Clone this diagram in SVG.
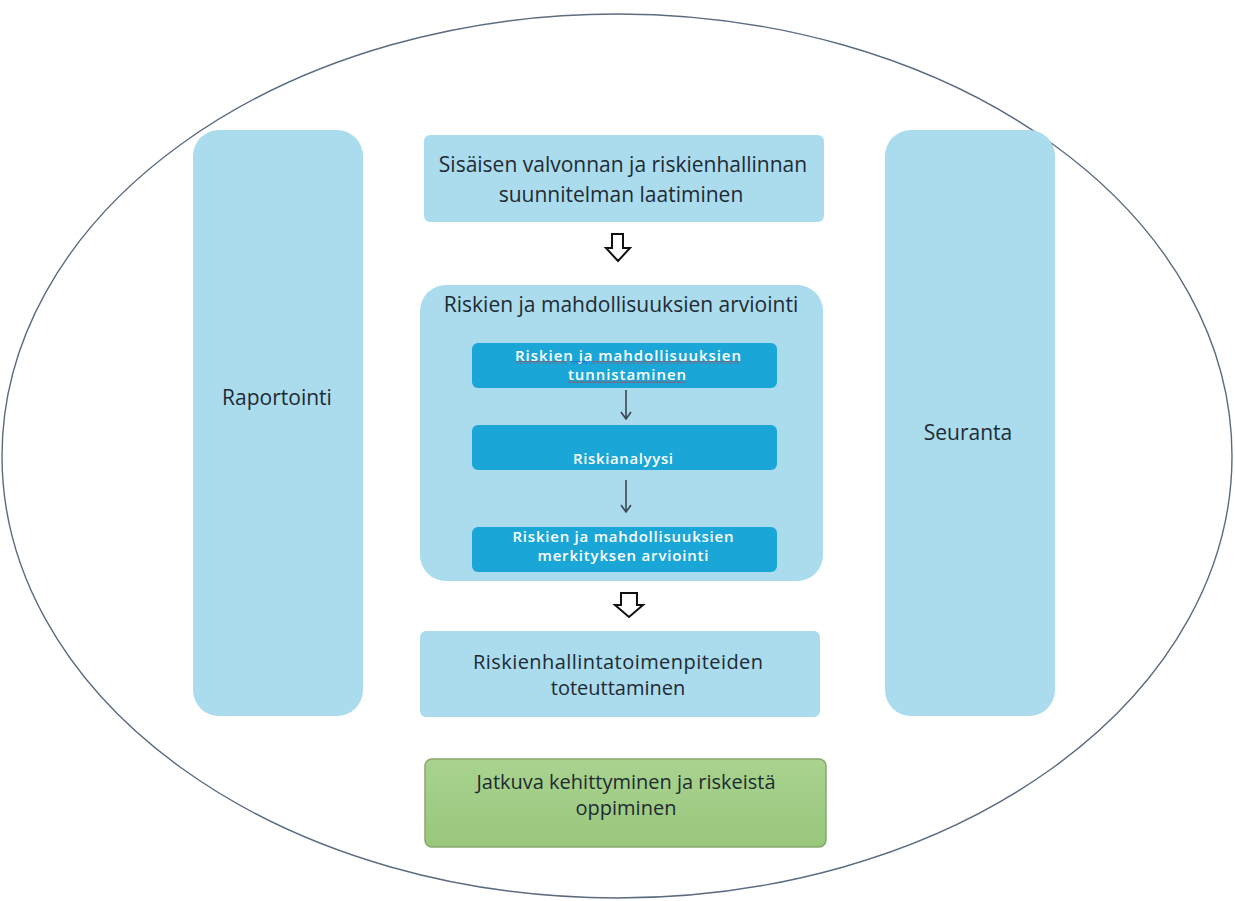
<svg xmlns="http://www.w3.org/2000/svg" width="1235" height="901" viewBox="0 0 1235 901">
<defs>
<style>
.lb{fill:#aadcee;}
.db{fill:#1aa7d8;}
.t{font-family:"Open Sans","Noto Sans","Liberation Sans",sans-serif;font-size:21px;fill:#1f2a33;text-anchor:middle;}
.w{font-family:"Open Sans","Noto Sans","Liberation Sans",sans-serif;font-size:15px;font-weight:600;fill:#ffffff;text-anchor:middle;}
.big{fill:#ffffff;stroke:#111;stroke-width:2;stroke-linejoin:miter;}
.sm{stroke:#3a4650;stroke-width:1.6;fill:none;}
</style>
<linearGradient id="g" x1="0" y1="0" x2="0" y2="1">
<stop offset="0" stop-color="#a9d38f"/>
<stop offset="1" stop-color="#98c77c"/>
</linearGradient>
<pattern id="wr" width="4" height="3" patternUnits="userSpaceOnUse">
<path d="M0,2.5 L2,0.5 L4,2.5" fill="none" stroke="#d42a2a" stroke-width="0.9"/>
</pattern>
<pattern id="wb" width="4" height="3" patternUnits="userSpaceOnUse">
<path d="M0,2.5 L2,0.5 L4,2.5" fill="none" stroke="#2233cc" stroke-width="0.9"/>
</pattern>
<marker id="ah" viewBox="0 0 12 12" refX="11" refY="6" markerWidth="12" markerHeight="12" markerUnits="userSpaceOnUse" orient="auto">
<path d="M4,1 L11,6 L4,11" fill="none" stroke="#3a4650" stroke-width="1.6"/>
</marker>
</defs>
<rect width="1235" height="901" fill="#ffffff"/>
<ellipse id="outer" cx="617" cy="456" rx="615" ry="442" fill="none" stroke="#5b6c80" stroke-width="1.4"/>

<g id="raportointi">
<rect class="lb" x="193" y="130" width="170" height="586" rx="26"/>
<text class="t" x="277" y="405">Raportointi</text>
</g>
<g id="seuranta">
<rect class="lb" x="885" y="130" width="170" height="586" rx="26"/>
<text class="t" x="968" y="440">Seuranta</text>
</g>

<g id="suunnitelma">
<rect class="lb" x="424" y="135" width="400" height="87" rx="6"/>
<text class="t" x="623" y="172">Sisäisen valvonnan ja riskienhallinnan</text>
<text class="t" x="621" y="202">suunnitelman laatiminen</text>
</g>

<g id="arviointi">
<rect class="lb" x="420" y="285" width="403" height="296" rx="26"/>
<text class="t" x="621" y="312">Riskien ja mahdollisuuksien arviointi</text>
</g>
<g id="tunnistaminen">
<rect class="db" x="472" y="343" width="305" height="45" rx="6"/>
<text class="w" x="628" y="361" textLength="226" lengthAdjust="spacing">Riskien ja mahdollisuuksien</text>
<text class="w" x="627" y="380" textLength="118" lengthAdjust="spacing">tunnistaminen</text>
<rect x="515" y="361" width="52" height="3" fill="url(#wr)"/>
<rect x="571" y="361" width="16" height="3" fill="url(#wb)"/>
<rect x="591" y="361" width="148" height="3" fill="url(#wr)"/>
<rect x="568" y="380" width="118" height="3" fill="url(#wr)"/>
</g>
<g id="riskianalyysi">
<rect class="db" x="472" y="425" width="305" height="45" rx="6"/>
<text class="w" x="623" y="464" textLength="100" lengthAdjust="spacing">Riskianalyysi</text>
</g>
<g id="merkitys">
<rect class="db" x="472" y="527" width="305" height="45" rx="6"/>
<text class="w" x="623" y="542" textLength="221" lengthAdjust="spacing">Riskien ja mahdollisuuksien</text>
<text class="w" x="623" y="561" textLength="171" lengthAdjust="spacing">merkityksen arviointi</text>
</g>

<g id="toimenpiteet">
<rect class="lb" x="420" y="631" width="400" height="86" rx="6"/>
<text class="t" x="618" y="669" style="font-size:20px" textLength="290" lengthAdjust="spacing">Riskienhallintatoimenpiteiden</text>
<text class="t" x="618" y="695" style="font-size:20px">toteuttaminen</text>
</g>

<g id="kehittyminen">
<rect x="425" y="759" width="401" height="88" rx="7" fill="url(#g)" stroke="#86a86e" stroke-width="1.5"/>
<text class="t" x="626" y="789" style="font-size:20px">Jatkuva kehittyminen ja riskeistä</text>
<text class="t" x="626" y="815" style="font-size:20px">oppiminen</text>
</g>

<g id="connectors">
<path class="big" d="M612,234 L623,234 L623,248 L630,248 L618,261 L606,248 L612,248 Z"/>
<path class="big" d="M621,593 L637,593 L637,605 L643,605 L629,617 L615,605 L621,605 Z"/>
<line class="sm" x1="626" y1="390" x2="626" y2="419" marker-end="url(#ah)"/>
<line class="sm" x1="626" y1="480" x2="626" y2="512" marker-end="url(#ah)"/>
</g>
</svg>
